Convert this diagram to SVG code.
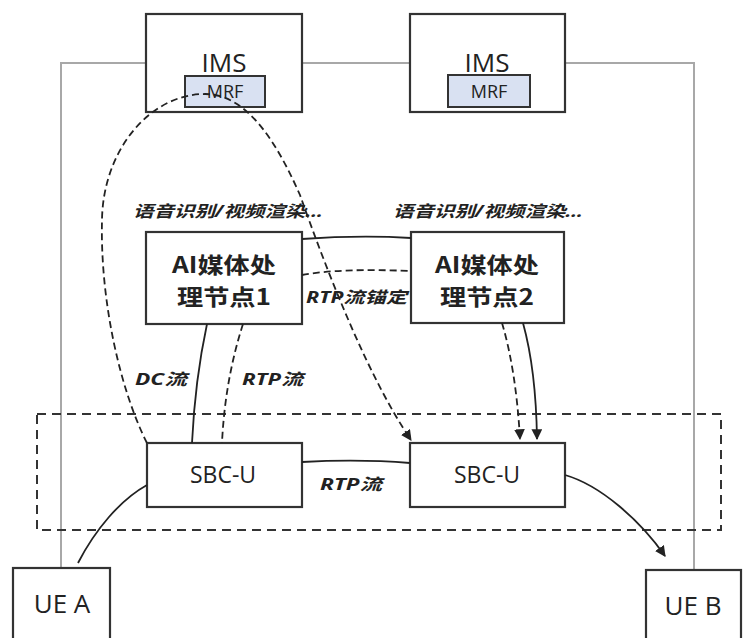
<svg xmlns="http://www.w3.org/2000/svg" width="746" height="638" viewBox="0 0 746 638">
  <style>
    .box { fill: #ffffff; stroke: #333333; stroke-width: 2.2; }
    .mrf { fill: #d9e1f2; stroke: #333333; stroke-width: 2; }
    .ctl { fill: none; stroke: #a8a8a8; stroke-width: 2; }
    .line { fill: none; stroke: #222222; stroke-width: 1.8; }
    .dash { fill: none; stroke: #222222; stroke-width: 1.8; stroke-dasharray: 7 4; }
    .zone { fill: none; stroke: #333333; stroke-width: 2; stroke-dasharray: 9 6; }
    .lbl { font-family: "Open Sans", "Noto Sans", sans-serif; fill: #222222; text-anchor: middle; }
    .ai { font-family: "Noto Sans CJK SC", "Noto Sans", sans-serif; font-weight: bold; font-size: 22px; fill: #222222; text-anchor: middle; }
    .note { font-family: "Noto Sans", "Noto Sans CJK SC", sans-serif; font-weight: bold; font-style: italic; fill: #222222; }
  </style>
  <defs>
    <marker id="arrow" viewBox="0 0 10 10" refX="9" refY="5" markerWidth="6" markerHeight="6" orient="auto" markerUnits="strokeWidth">
      <path d="M0,0 L10,5 L0,10 Z" fill="#222222"/>
    </marker>
  </defs>

  <rect width="746" height="638" fill="#ffffff"/>

  <!-- control-plane wiring between UEs and IMS -->
  <g id="control-lines">
    <path class="ctl" d="M146,63 H61 V568"/>
    <path class="ctl" d="M302,63 H410"/>
    <path class="ctl" d="M565,63 H694 V570"/>
  </g>

  <!-- media-plane zone -->
  <rect id="media-zone" class="zone" x="37" y="414" width="684" height="116"/>

  <g id="ims-1">
    <rect class="box" x="146" y="14" width="156" height="98"/>
    <text class="lbl" x="224" y="72" font-size="26">IMS</text>
    <rect class="mrf" x="185" y="76" width="80" height="31"/>
    <text class="lbl" x="225" y="98" font-size="18">MRF</text>
  </g>

  <g id="ims-2">
    <rect class="box" x="410" y="14" width="155" height="98"/>
    <text class="lbl" x="487" y="72" font-size="26">IMS</text>
    <rect class="mrf" x="448" y="75" width="82" height="32"/>
    <text class="lbl" x="489" y="98" font-size="18">MRF</text>
  </g>

  <g id="ai-node-1">
    <rect class="box" x="146" y="232" width="156" height="92"/>
    <text class="ai" x="224" y="273" textLength="104" lengthAdjust="spacingAndGlyphs">AI媒体处</text>
    <text class="ai" x="224" y="305" textLength="94" lengthAdjust="spacingAndGlyphs">理节点1</text>
  </g>

  <g id="ai-node-2">
    <rect class="box" x="411" y="232" width="153" height="91"/>
    <text class="ai" x="487" y="273" textLength="104" lengthAdjust="spacingAndGlyphs">AI媒体处</text>
    <text class="ai" x="487" y="305" textLength="94" lengthAdjust="spacingAndGlyphs">理节点2</text>
  </g>

  <g id="sbc-u-1">
    <rect class="box" x="147" y="443" width="155" height="64"/>
    <text class="lbl" x="223" y="483" font-size="23">SBC-U</text>
  </g>

  <g id="sbc-u-2">
    <rect class="box" x="410" y="443" width="155" height="64"/>
    <text class="lbl" x="487" y="483" font-size="23">SBC-U</text>
  </g>

  <g id="ue-a">
    <rect class="box" x="13" y="568" width="97" height="80"/>
    <text class="lbl" x="62" y="613" font-size="26">UE A</text>
  </g>

  <g id="ue-b">
    <rect class="box" x="646" y="570" width="95" height="78"/>
    <text class="lbl" x="693" y="615" font-size="26">UE B</text>
  </g>

  <g id="connectors">
    <!-- DC flow via MRF -->
    <path class="dash" d="M147,443 C120,390 100,300 102,220 C103,150 150,94 205,94 C250,94 280,150 300,195 C330,280 370,380 411,440" marker-end="url(#arrow)"/>
    <!-- AI node 1 to SBC-U -->
    <path class="line" d="M207,324 Q195,380 192,443"/>
    <path class="dash" d="M243,324 Q225,380 222,443"/>
    <!-- AI node 1 to AI node 2 -->
    <path class="line" d="M302,239 Q360,235 411,238"/>
    <path class="dash" d="M302,275 Q340,268 411,271"/>
    <!-- AI node 2 to SBC-U -->
    <path class="dash" d="M502,323 Q516,370 520,439" marker-end="url(#arrow)"/>
    <path class="line" d="M523,323 Q536,370 537,439" marker-end="url(#arrow)"/>
    <!-- SBC-U to SBC-U -->
    <path class="line" d="M302,462 Q360,459 410,463"/>
    <!-- UE A to SBC-U, SBC-U to UE B -->
    <path class="line" d="M78,563 C95,530 120,500 147,485"/>
    <path class="line" d="M565,475 C600,485 640,520 665,556" marker-end="url(#arrow)"/>
  </g>

  <g id="labels">
    <text class="note" x="133" y="217" font-size="16" textLength="190" lengthAdjust="spacingAndGlyphs">语音识别/视频渲染...</text>
    <text class="note" x="393" y="217" font-size="16" textLength="190" lengthAdjust="spacingAndGlyphs">语音识别/视频渲染...</text>
    <text class="note" x="306" y="303" font-size="16" textLength="101" lengthAdjust="spacingAndGlyphs">RTP流锚定</text>
    <text class="note" x="135" y="385" font-size="16" textLength="52" lengthAdjust="spacingAndGlyphs">DC流</text>
    <text class="note" x="242" y="385" font-size="16" textLength="61" lengthAdjust="spacingAndGlyphs">RTP流</text>
    <text class="note" x="320" y="490" font-size="16" textLength="62" lengthAdjust="spacingAndGlyphs">RTP流</text>
  </g>
</svg>
